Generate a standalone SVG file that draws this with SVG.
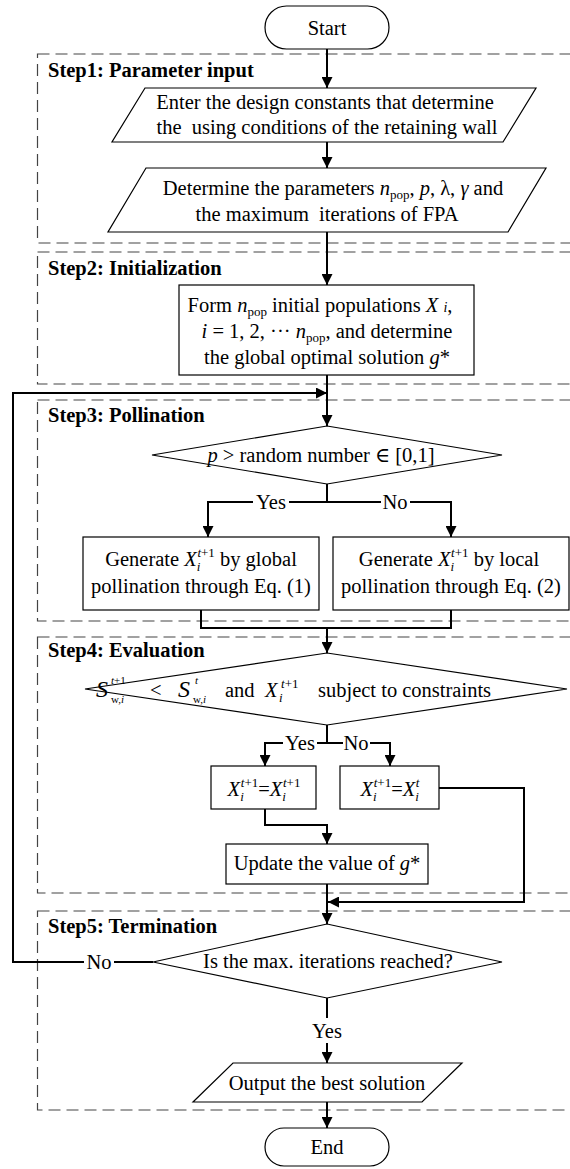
<svg xmlns="http://www.w3.org/2000/svg" width="570" height="1169" viewBox="0 0 570 1169" font-family="'Liberation Serif', 'DejaVu Serif', serif">
<defs>
<style>
text{font-family:'Liberation Serif','DejaVu Serif',serif;font-size:20.5px;fill:#000}
.c{text-anchor:middle}
.b{font-weight:bold}
.i{font-style:italic}
.shape{fill:#fff;stroke:#000;stroke-width:1.2}
.dash{fill:none;stroke:#444;stroke-width:1.2;stroke-dasharray:12 6}
.conn{fill:none;stroke:#000;stroke-width:2}
.arr{marker-end:url(#ah)}
</style>
<marker id="ah" markerUnits="userSpaceOnUse" markerWidth="11" markerHeight="11" refX="11" refY="5.5" orient="auto">
<path d="M0,0 L11,5.5 L0,11 z" fill="#000"/>
</marker>
</defs>
<rect width="570" height="1169" fill="#fff"/>

<g id="steps">
<rect id="step1" class="dash" x="37.5" y="54" width="560" height="189"/>
<rect id="step2" class="dash" x="37.5" y="252" width="560" height="132"/>
<rect id="step3" class="dash" x="37.5" y="400" width="560" height="221"/>
<rect id="step4" class="dash" x="37.5" y="637" width="560" height="256"/>
<rect id="step5" class="dash" x="37.5" y="911" width="560" height="199"/>
<text class="b" x="48" y="77">Step1: Parameter input</text>
<text class="b" x="48" y="275">Step2: Initialization</text>
<text class="b" x="48" y="422">Step3: Pollination</text>
<text class="b" x="48" y="657">Step4: Evaluation</text>
<text class="b" x="48" y="933">Step5: Termination</text>
</g>

<g id="connectors">
<path class="conn arr" d="M327,49 V88"/>
<path class="conn arr" d="M327,142 V168"/>
<path class="conn arr" d="M327,232 V285"/>
<path class="conn arr" d="M327,375 V426"/>
<path class="conn" d="M153,962 H114"/>
<path class="conn arr" d="M84,962 H13 V393 H327"/>
<path class="conn" d="M327,484 V502 H289"/>
<path class="conn arr" d="M253,502 H208 V537"/>
<path class="conn" d="M327,502 H381"/>
<path class="conn arr" d="M410,502 H451 V537"/>
<path class="conn" d="M201,610 V628 H451 V610"/>
<path class="conn arr" d="M327,628 V653"/>
<path class="conn" d="M327,725 V743 H317"/>
<path class="conn arr" d="M283,743 H265 V766"/>
<path class="conn" d="M327,743 H343"/>
<path class="conn arr" d="M370,743 H390 V766"/>
<path class="conn arr" d="M265,809 V825 H327 V844"/>
<path class="conn arr" d="M439,788 H524 V902 H328"/>
<path class="conn arr" d="M327,884 V924"/>
<path class="conn" d="M327,998 V1018"/>
<path class="conn arr" d="M327,1043 V1063"/>
<path class="conn arr" d="M327,1102 V1128"/>
<text class="c" x="271" y="509">Yes</text>
<text class="c" x="395" y="509">No</text>
<text class="c" x="300" y="750">Yes</text>
<text class="c" x="356" y="750">No</text>
<text class="c" x="99" y="969">No</text>
<text class="c" x="327" y="1038">Yes</text>
</g>

<g id="start">
<rect class="shape" x="265" y="6" width="124" height="43" rx="21.5"/>
<text class="c" x="327" y="35">Start</text>
</g>

<g id="input1">
<polygon class="shape" points="145,88 536,88 503,142 112,142"/>
<text class="c" x="325" y="109">Enter the design constants that determine</text>
<text class="c" x="327" y="134" xml:space="preserve">the  using conditions of the retaining wall</text>
</g>

<g id="input2">
<polygon class="shape" points="146,168 546,168 508,232 108,232"/>
<text class="c" x="333" y="195">Determine the parameters <tspan class="i">n</tspan><tspan font-size="13" dy="4">pop</tspan><tspan dy="-4">, </tspan><tspan class="i">p</tspan>,  λ,  <tspan class="i">γ</tspan> and</text>
<text class="c" x="327" y="221" xml:space="preserve">the maximum  iterations of FPA</text>
</g>

<g id="init">
<rect class="shape" x="179" y="285" width="295" height="90"/>
<text class="c" x="320" y="312">Form <tspan class="i">n</tspan><tspan font-size="13" dy="4">pop</tspan><tspan dy="-4"> initial populations </tspan><tspan class="i">X </tspan><tspan class="i" font-size="14">i</tspan>,</text>
<text class="c" x="327" y="338"><tspan class="i">i</tspan> = 1, 2,  ··· <tspan class="i">n</tspan><tspan font-size="13" dy="4">pop</tspan><tspan dy="-4">, and determine</tspan></text>
<text class="c" x="327" y="364">the global optimal solution <tspan class="i">g</tspan>*</text>
</g>

<g id="cond1">
<polygon class="shape" points="327,426 502,455 327,484 152,455"/>
<text class="c" x="321" y="462"><tspan class="i">p</tspan> &gt; random number ∈ [0,1]</text>
</g>

<g id="global">
<rect class="shape" x="83" y="537" width="236" height="73"/>
<text class="c" x="201" y="566">Generate <tspan class="i">X</tspan><tspan class="i" font-size="13" dy="5">i</tspan><tspan font-size="13" dx="-3" dy="-14"><tspan class="i">t</tspan>+1</tspan><tspan dy="9"> by global</tspan></text>
<text class="c" x="201" y="593">pollination through Eq. (1)</text>
</g>

<g id="local">
<rect class="shape" x="333" y="537" width="236" height="73"/>
<text class="c" x="449" y="566">Generate <tspan class="i">X</tspan><tspan class="i" font-size="13" dy="5">i</tspan><tspan font-size="13" dx="-3" dy="-14"><tspan class="i">t</tspan>+1</tspan><tspan dy="9"> by local</tspan></text>
<text class="c" x="451" y="593">pollination through Eq. (2)</text>
</g>

<g id="cond2">
<polygon class="shape" points="327,653 567,689 327,725 85,689"/>
<text y="697"><tspan class="i" font-size="24" x="96">S</tspan><tspan font-size="11" x="111" dy="6">w,<tspan class="i">i</tspan></tspan><tspan font-size="11" x="111" dy="-19"><tspan class="i">t</tspan>+1</tspan><tspan x="150" dy="13">&lt;</tspan><tspan class="i" font-size="24" x="178">S</tspan><tspan font-size="11" x="193" dy="6">w,<tspan class="i">i</tspan></tspan><tspan class="i" font-size="11" x="195" dy="-19">t</tspan><tspan x="225" dy="13">and</tspan><tspan class="i" x="265">X</tspan><tspan class="i" font-size="13" x="279" dy="5">i</tspan><tspan font-size="13" x="281" dy="-14"><tspan class="i">t</tspan>+1</tspan><tspan x="318" dy="9">subject to constraints</tspan></text>
</g>

<g id="keep">
<rect class="shape" x="211" y="766" width="105" height="43"/>
<text class="c" x="264" y="796"><tspan class="i">X</tspan><tspan class="i" font-size="13" dy="5">i</tspan><tspan font-size="13" dx="-3" dy="-14"><tspan class="i">t</tspan>+1</tspan><tspan dy="9">=</tspan><tspan class="i">X</tspan><tspan class="i" font-size="13" dy="5">i</tspan><tspan font-size="13" dx="-3" dy="-14"><tspan class="i">t</tspan>+1</tspan></text>
</g>

<g id="reject">
<rect class="shape" x="340" y="766" width="99" height="43"/>
<text class="c" x="390" y="796"><tspan class="i">X</tspan><tspan class="i" font-size="13" dy="5">i</tspan><tspan font-size="13" dx="-3" dy="-14"><tspan class="i">t</tspan>+1</tspan><tspan dy="9">=</tspan><tspan class="i">X</tspan><tspan class="i" font-size="13" dy="5">i</tspan><tspan class="i" font-size="13" dx="-3" dy="-14">t</tspan></text>
</g>

<g id="update">
<rect class="shape" x="226" y="844" width="202" height="40"/>
<text class="c" x="327" y="870">Update the value of <tspan class="i">g</tspan>*</text>
</g>

<g id="cond3">
<polygon class="shape" points="327,924 502,962 327,998 153,962"/>
<text class="c" x="328" y="968">Is the max. iterations reached?</text>
</g>

<g id="output">
<polygon class="shape" points="233,1063 462,1063 422,1102 193,1102"/>
<text class="c" x="327" y="1090">Output the best solution</text>
</g>

<g id="end">
<rect class="shape" x="265" y="1128" width="124" height="38" rx="19"/>
<text class="c" x="327" y="1154">End</text>
</g>
</svg>
